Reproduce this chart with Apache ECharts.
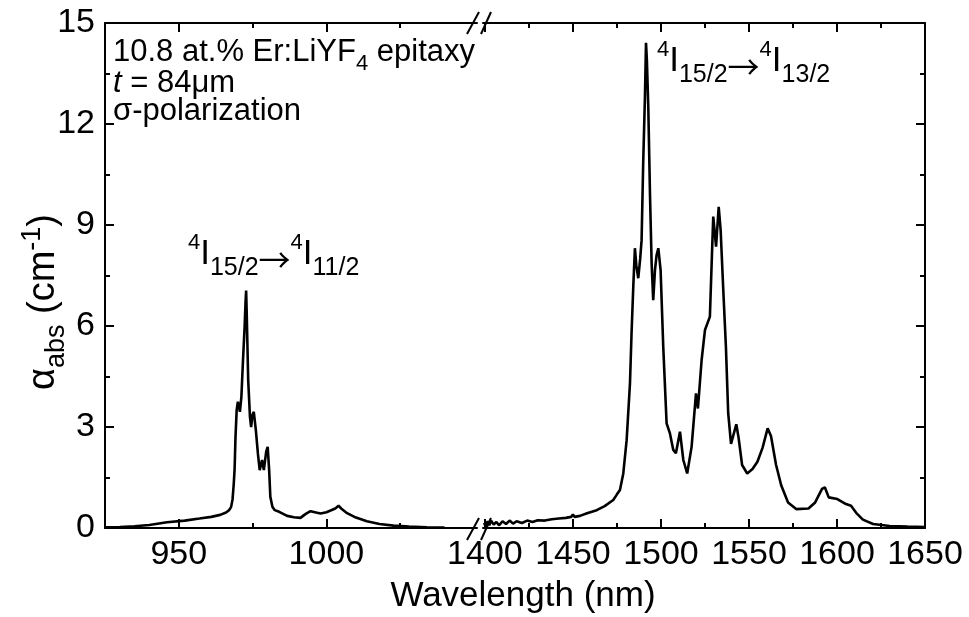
<!DOCTYPE html>
<html><head><meta charset="utf-8">
<script src="https://cdn.jsdelivr.net/npm/echarts@6/dist/echarts.min.js"></script>
<style>html,body{margin:0;padding:0;background:#fff}#c{width:969px;height:617px}</style>
</head><body><div id="c"></div>
<script>
// ---- data ----
const leftWavelength = [925,930,935,940,946,952,957,961,964,966,967,967.7,968.2,968.6,968.9,969.2,969.6,970.0,970.4,970.7,971.2,971.7,972.3,972.6,972.8,973.0,973.2,973.5,974.1,974.5,974.9,975.4,976.1,976.8,977.4,978.2,978.8,979.6,980.1,980.6,981.0,981.7,982.5,984,986.7,989,991.2,993,994.6,996.5,998,1000,1001.4,1003,1004.1,1005,1007,1010,1013.7,1018,1022.7,1028,1034,1040];
const leftAbs = [0.02,0.03,0.05,0.09,0.17,0.22,0.28,0.33,0.39,0.46,0.53,0.62,0.85,1.3,1.75,2.7,3.5,3.75,3.6,3.45,3.9,4.9,6.0,6.7,7.05,6.4,5.6,4.4,3.3,3.0,3.35,3.45,2.9,2.2,1.72,2.02,1.72,2.27,2.41,1.72,0.93,0.63,0.53,0.48,0.36,0.32,0.3,0.42,0.5,0.46,0.43,0.47,0.52,0.58,0.66,0.58,0.44,0.31,0.2,0.12,0.07,0.04,0.02,0.01];
const rightWavelength = [1399.5,1400.5,1401.5,1402.5,1403.5,1405,1406.5,1408,1410,1412,1414,1416,1418,1421,1424,1427,1430,1434,1438,1442,1446,1449,1450,1451,1454,1458,1463.5,1468,1472.9,1475,1476.7,1478.6,1480.5,1482.4,1483.3,1484.3,1485.2,1486,1487.1,1488.2,1489.0,1489.9,1490.9,1491.5,1492.0,1492.8,1493.8,1494.7,1495.6,1496.6,1497.5,1498.5,1499.8,1501.3,1503.2,1505.1,1507,1508.5,1510.8,1512.7,1514.9,1517.4,1519.9,1521,1521.8,1523.1,1525,1527.8,1528.8,1529.7,1531.3,1532.8,1533.9,1535.4,1536.9,1538.2,1539.8,1540.5,1542.8,1544.1,1546.1,1549,1552,1554.8,1557.7,1560.6,1562.5,1565.4,1568.3,1572.2,1577,1583.8,1587.6,1591.5,1593.1,1595.3,1600.2,1605.1,1608,1610.9,1614.7,1620.5,1630,1640,1650];
const rightAbs = [0.15,0.05,0.2,0.08,0.22,0.1,0.18,0.08,0.2,0.12,0.22,0.13,0.2,0.15,0.22,0.18,0.23,0.22,0.26,0.28,0.3,0.33,0.4,0.33,0.36,0.44,0.53,0.65,0.83,1.0,1.13,1.62,2.61,4.3,5.8,7.2,8.31,7.8,7.42,8.0,8.55,10.83,12.81,14.41,13.9,12.5,9.84,7.86,6.77,7.66,8.1,8.31,7.66,5.38,3.11,2.81,2.32,2.22,2.86,2.02,1.62,2.41,4.0,3.55,3.5,4.99,5.88,6.28,7.86,9.25,8.36,9.54,8.85,7.07,5.38,3.41,2.5,2.45,3.08,2.68,1.87,1.62,1.75,1.97,2.38,2.96,2.73,1.87,1.27,0.76,0.56,0.58,0.76,1.16,1.21,0.91,0.86,0.71,0.66,0.45,0.25,0.12,0.06,0.04,0.03];
const yTicks = [0, 3, 6, 9, 12, 15];
const leftMajorTicks = [950, 1000];
const leftMinorTicks = [975, 1025];
const rightMajorTicks = [1400, 1450, 1500, 1550, 1600, 1650];
const rightMinorTicks = [1425, 1475, 1525, 1575, 1625];

// ---- layout / styling ----
const FONT = '"Liberation Sans", Arial, sans-serif';
const ARROW_FONT = '"Noto Sans CJK SC", "DejaVu Sans", sans-serif';
const INK = '#000';
const TICK_FS = 34;
const chart = echarts.init(document.getElementById('c'));

function zip(xs, ys) { return xs.map((x, i) => [x, ys[i]]); }
const plain = v => String(v);

const axisLineStyle = { show: true, lineStyle: { color: INK, width: 2 } };
function xAx(grid, pos, min, max, vals, len, labels, showLine) {
  return {
    type: 'value', gridIndex: grid, position: pos, min: min, max: max,
    axisLine: showLine ? axisLineStyle : { show: false },
    axisTick: { show: true, inside: true, length: len, customValues: vals, lineStyle: { color: INK, width: 2 } },
    axisLabel: labels ? { show: true, customValues: vals, formatter: plain, fontSize: TICK_FS, color: INK, fontFamily: FONT, margin: 10 } : { show: false },
    splitLine: { show: false }
  };
}
function yAx(grid, pos, labels) {
  return {
    type: 'value', gridIndex: grid, position: pos, min: yTicks[0], max: yTicks[yTicks.length - 1], interval: 3,
    axisLine: axisLineStyle,
    axisTick: { show: true, inside: true, length: 9, lineStyle: { color: INK, width: 2 } },
    minorTick: { show: true, splitNumber: 2, length: 5, lineStyle: { color: INK, width: 2 } },
    axisLabel: labels ? { show: true, formatter: plain, fontSize: TICK_FS, color: INK, fontFamily: FONT, margin: 10 } : { show: false },
    splitLine: { show: false }
  };
}

const L = { min: 925, max: 1051 };
const R = { min: 1398.9, max: 1650 };

const sub = { fontSize: 25, lineHeight: 25, verticalAlign: 'bottom', padding: [0, 0, 3, 0], fontFamily: FONT, fill: INK };
const sup = { fontSize: 22, lineHeight: 22, verticalAlign: 'top', padding: [8, 0, 0, 0], fontFamily: FONT, fill: INK };
const big = { fontSize: 35, lineHeight: 60, fontFamily: FONT, fill: INK };
const arr = { fontSize: 32, lineHeight: 32, padding: [12, 0, 0, 0], fontFamily: ARROW_FONT, fill: INK };

function slash(x1, y1, x2, y2) {
  return { type: 'line', shape: { x1, y1, x2, y2 }, style: { stroke: INK, lineWidth: 2 }, z: 100 };
}

const option = {
  animation: false,
  backgroundColor: '#fff',
  grid: [
    { left: 105, top: 23, width: 372, height: 505 },
    { left: 483, top: 23, width: 442, height: 505 }
  ],
  xAxis: [
    xAx(0, 'bottom', L.min, L.max, leftMajorTicks, 9, true, true),
    xAx(0, 'bottom', L.min, L.max, leftMinorTicks, 5, false, false),
    xAx(0, 'top', L.min, L.max, leftMajorTicks, 9, false, true),
    xAx(0, 'top', L.min, L.max, leftMinorTicks, 5, false, false),
    xAx(1, 'bottom', R.min, R.max, rightMajorTicks, 9, true, true),
    xAx(1, 'bottom', R.min, R.max, rightMinorTicks, 5, false, false),
    xAx(1, 'top', R.min, R.max, rightMajorTicks, 9, false, true),
    xAx(1, 'top', R.min, R.max, rightMinorTicks, 5, false, false)
  ],
  yAxis: [ yAx(0, 'left', true), yAx(1, 'right', false) ],
  series: [
    { type: 'line', xAxisIndex: 0, yAxisIndex: 0, data: zip(leftWavelength, leftAbs), showSymbol: false, symbol: 'none',
      lineStyle: { color: INK, width: 2.6 }, clip: true },
    { type: 'line', xAxisIndex: 4, yAxisIndex: 1, data: zip(rightWavelength, rightAbs), showSymbol: false, symbol: 'none',
      lineStyle: { color: INK, width: 2.6 }, clip: true }
  ],
  graphic: [
    // axis-break marks
    slash(467, 540, 479, 518), slash(481, 540, 491, 518),
    slash(467, 34, 479, 12), slash(481, 34, 491, 12),
    // sample annotation
    { type: 'text', x: 113, y: 52, z: 100, style: {
        text: '{m|10.8 at.% Er:LiYF}{s|4}{m| epitaxy}', verticalAlign: 'middle',
        rich: { s: { fontSize: 22, lineHeight: 22, verticalAlign: 'bottom', fontFamily: FONT, fill: INK },
                m: { fontSize: 31, lineHeight: 46, fontFamily: FONT, fill: INK } } } },
    { type: 'text', x: 113, y: 83, z: 100, style: {
        text: '{i|t}{m| = 84\u03bcm}', verticalAlign: 'middle',
        rich: { i: { fontStyle: 'italic', fontSize: 31, fontFamily: FONT, fill: INK },
                m: { fontSize: 31, fontFamily: FONT, fill: INK } } } },
    { type: 'text', x: 113, y: 111, z: 100, style: {
        text: '\u03c3-polarization', fontSize: 31, fontFamily: FONT, fill: INK, verticalAlign: 'middle' } },
    // transition labels
    { type: 'text', x: 188, y: 254, z: 100, style: {
        text: '{p|4}{b|I}{s|15/2}{a|\u2192}{p|4}{b|I}{s|11/2}', verticalAlign: 'middle',
        rich: { p: sup, b: big, s: sub, a: arr } } },
    { type: 'text', x: 657, y: 61, z: 100, style: {
        text: '{p|4}{b|I}{s|15/2}{a|\u2192}{p|4}{b|I}{s|13/2}', verticalAlign: 'middle',
        rich: { p: sup, b: big, s: sub, a: arr } } },
    // axis titles
    { type: 'text', x: 523, y: 596, z: 100, style: {
        text: 'Wavelength (nm)', fontSize: 35, fontFamily: FONT, fill: INK, align: 'center', verticalAlign: 'middle' } },
    { type: 'text', x: 44, y: 302, rotation: Math.PI / 2, z: 100, style: {
        text: '{b|\u03b1}{s|abs}{b| (cm}{p|-1}{b|)}', align: 'center', verticalAlign: 'middle',
        rich: { b: { fontSize: 38, lineHeight: 60, fontFamily: FONT, fill: INK },
                s: { fontSize: 27, lineHeight: 27, verticalAlign: 'bottom', padding: [0, 0, 4, 0], fontFamily: FONT, fill: INK },
                p: { fontSize: 27, lineHeight: 27, verticalAlign: 'top', padding: [5, 0, 0, 0], fontFamily: FONT, fill: INK } } } }
  ]
};
chart.setOption(option);
</script>
</body></html>
